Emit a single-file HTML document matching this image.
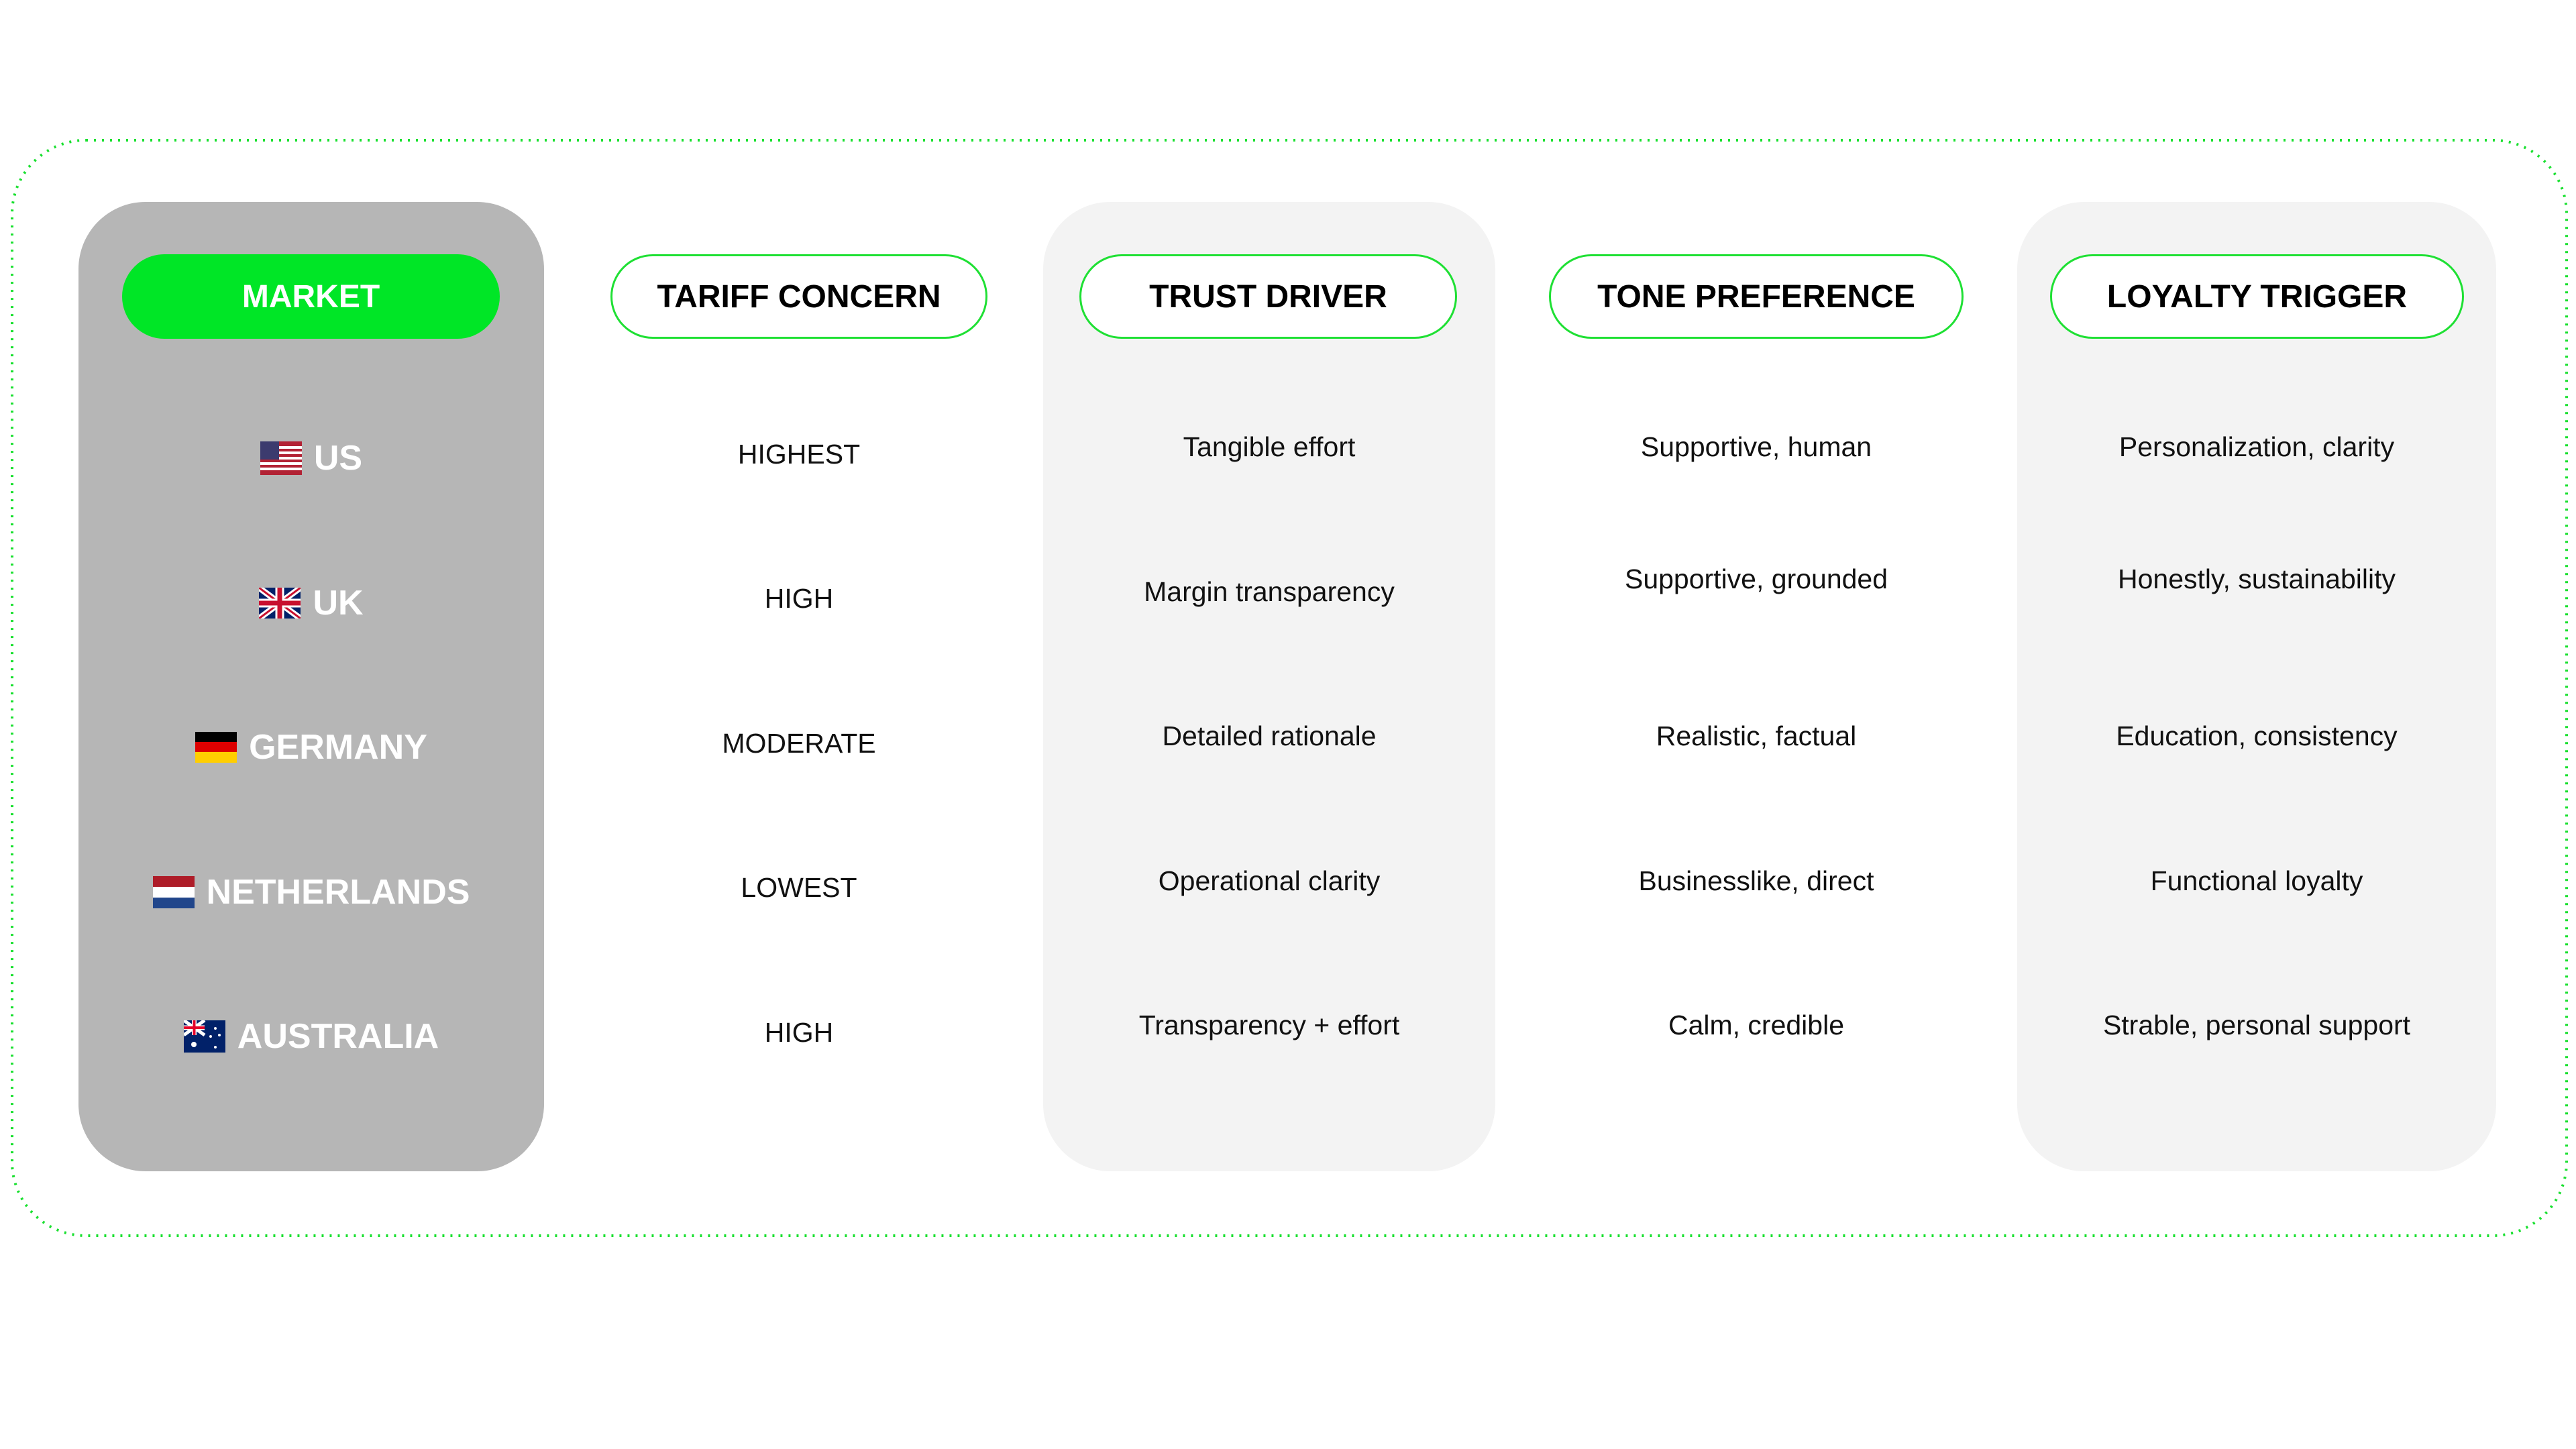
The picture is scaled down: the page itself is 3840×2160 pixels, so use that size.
<!DOCTYPE html>
<html><head><meta charset="utf-8"><style>
html,body{margin:0;padding:0;background:#fff;}
body{width:3840px;height:2160px;position:relative;overflow:hidden;font-family:"Liberation Sans",Arial,sans-serif;}
.a{position:absolute;}
.panel{position:absolute;top:301px;height:1445px;border-radius:100px;}
.pill{position:absolute;top:379px;height:126px;border:3px solid #1fe034;border-radius:66px;background:#fff;display:flex;align-items:center;justify-content:center;font-weight:bold;font-size:48px;color:#000;box-sizing:border-box;}
.t{position:absolute;width:800px;text-align:center;font-size:41px;line-height:42px;color:#111;}
.m{position:absolute;left:117px;width:694px;display:flex;align-items:center;justify-content:center;font-weight:bold;font-size:52px;color:#fff;height:60px;}
.m svg{margin-right:18px;}
</style></head><body>
<svg class="a" style="left:0;top:0" width="3840" height="2160">
<rect x="18" y="209" width="3808" height="1633" rx="110" ry="110" fill="none" stroke="#19e02f" stroke-width="4" stroke-dasharray="3 9"/>
</svg>
<div class="panel" style="left:117px;width:694px;background:#b6b6b6"></div>
<div class="panel" style="left:1555px;width:674px;background:#f3f3f3"></div>
<div class="panel" style="left:3007px;width:714px;background:#f3f3f3"></div>

<div class="pill" style="left:182px;width:563px;background:#00e626;border-color:#00e626;color:#fff">MARKET</div>
<div class="pill" style="left:910px;width:562px">TARIFF CONCERN</div>
<div class="pill" style="left:1609px;width:563px">TRUST DRIVER</div>
<div class="pill" style="left:2309px;width:618px">TONE PREFERENCE</div>
<div class="pill" style="left:3056px;width:617px">LOYALTY TRIGGER</div>

<div class="m" style="top:653px"><svg width="62" height="50" viewBox="0 0 62 50"><rect width="62" height="50" fill="#b22234"/><g fill="#fff"><rect y="7" width="62" height="4"/><rect y="15" width="62" height="4"/><rect y="23" width="62" height="4"/><rect y="31" width="62" height="4"/><rect y="39" width="62" height="4"/></g><rect width="28" height="27" fill="#3c3b6e"/></svg>US</div>
<div class="m" style="top:869px"><svg width="62" height="46" viewBox="0 0 62 46"><rect width="62" height="46" fill="#012169"/><path d="M0 0L62 46M62 0L0 46" stroke="#fff" stroke-width="9"/><path d="M0 0L62 46M62 0L0 46" stroke="#c8102e" stroke-width="3"/><path d="M31 0V46M0 23H62" stroke="#fff" stroke-width="13"/><path d="M31 0V46M0 23H62" stroke="#c8102e" stroke-width="7"/></svg>UK</div>
<div class="m" style="top:1084px"><svg width="62" height="46" viewBox="0 0 62 46"><rect width="62" height="16" fill="#000"/><rect y="15" width="62" height="16" fill="#dd0000"/><rect y="30" width="62" height="16" fill="#ffce00"/></svg>GERMANY</div>
<div class="m" style="top:1300px"><svg width="62" height="48" viewBox="0 0 62 48"><rect width="62" height="16" fill="#ae1c28"/><rect y="16" width="62" height="16" fill="#fff"/><rect y="32" width="62" height="16" fill="#21468b"/></svg>NETHERLANDS</div>
<div class="m" style="top:1515px"><svg width="62" height="48" viewBox="0 0 62 48"><rect width="62" height="48" fill="#012169"/><path d="M0 0L31 22M31 0L0 22" stroke="#fff" stroke-width="5"/><path d="M15.5 0V22M0 11H31" stroke="#fff" stroke-width="7"/><path d="M15.5 0V22M0 11H31" stroke="#e4002b" stroke-width="4"/><g fill="#fff"><circle cx="15" cy="36" r="4"/><circle cx="47" cy="12" r="2"/><circle cx="40" cy="24" r="2"/><circle cx="53" cy="22" r="2"/><circle cx="47" cy="40" r="2"/></g></svg>AUSTRALIA</div>

<div class="t" style="left:791px;top:656px">HIGHEST</div>
<div class="t" style="left:791px;top:871px">HIGH</div>
<div class="t" style="left:791px;top:1087px">MODERATE</div>
<div class="t" style="left:791px;top:1302px">LOWEST</div>
<div class="t" style="left:791px;top:1518px">HIGH</div>

<div class="t" style="left:1492px;top:645px">Tangible effort</div>
<div class="t" style="left:1492px;top:861px">Margin transparency</div>
<div class="t" style="left:1492px;top:1076px">Detailed rationale</div>
<div class="t" style="left:1492px;top:1292px">Operational clarity</div>
<div class="t" style="left:1492px;top:1507px">Transparency + effort</div>

<div class="t" style="left:2218px;top:645px">Supportive, human</div>
<div class="t" style="left:2218px;top:842px">Supportive, grounded</div>
<div class="t" style="left:2218px;top:1076px">Realistic, factual</div>
<div class="t" style="left:2218px;top:1292px">Businesslike, direct</div>
<div class="t" style="left:2218px;top:1507px">Calm, credible</div>

<div class="t" style="left:2964px;top:645px">Personalization, clarity</div>
<div class="t" style="left:2964px;top:842px">Honestly, sustainability</div>
<div class="t" style="left:2964px;top:1076px">Education, consistency</div>
<div class="t" style="left:2964px;top:1292px">Functional loyalty</div>
<div class="t" style="left:2964px;top:1507px">Strable, personal support</div>
</body></html>
